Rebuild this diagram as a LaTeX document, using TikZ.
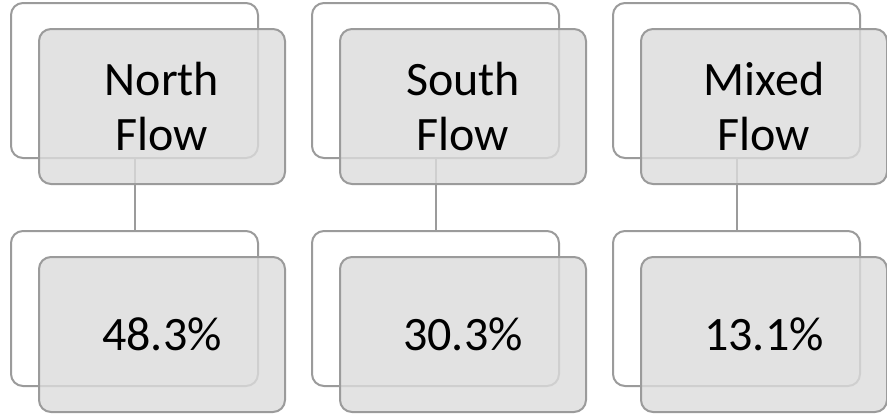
\documentclass[tikz,border=0pt]{standalone}
\usepackage{fontspec}
\setmainfont{Carlito}
\usetikzlibrary{positioning}

\definecolor{edgegray}{RGB}{155,155,155}
\definecolor{boxgray}{RGB}{220,220,220}

\begin{document}
\begin{tikzpicture}[x=1pt, y=-1pt,
    backbox/.style={rectangle, rounded corners=12pt, draw=edgegray, line width=2pt, fill=white, minimum width=247pt, minimum height=155pt},
    frontbox/.style={rectangle, rounded corners=12pt, draw=edgegray, line width=2pt, fill=boxgray, fill opacity=0.81, text opacity=1, minimum width=246pt, minimum height=155pt, align=center, font=\fontsize{48}{55}\selectfont},
    link/.style={draw=edgegray, line width=2pt}
  ]
    \useasboundingbox (0,0) rectangle (887,416);
    % back frames
    \node[backbox] (nb1) at (134.5, 80.5) {};
    \node[backbox] (sb1) at (435.5, 80.5) {};
    \node[backbox] (mb1) at (736.5, 80.5) {};
    \node[backbox] (nb2) at (134.5, 308.5) {};
    \node[backbox] (sb2) at (435.5, 308.5) {};
    \node[backbox] (mb2) at (736.5, 308.5) {};
    % connectors sit under the grey boxes
    \draw[link] (nb1.south) -- (nb2.north);
    \draw[link] (sb1.south) -- (sb2.north);
    \draw[link] (mb1.south) -- (mb2.north);
    % grey boxes with the labels
    \node[frontbox] (north) at (162, 106.5) {North\\Flow};
    \node[frontbox] (south) at (463, 106.5) {South\\Flow};
    \node[frontbox] (mixed) at (764, 106.5) {Mixed\\Flow};
    \node[frontbox] (northpct) at (162, 334.5) {48.3\%};
    \node[frontbox] (southpct) at (463, 334.5) {30.3\%};
    \node[frontbox] (mixedpct) at (764, 334.5) {13.1\%};
  \end{tikzpicture}
\end{document}
